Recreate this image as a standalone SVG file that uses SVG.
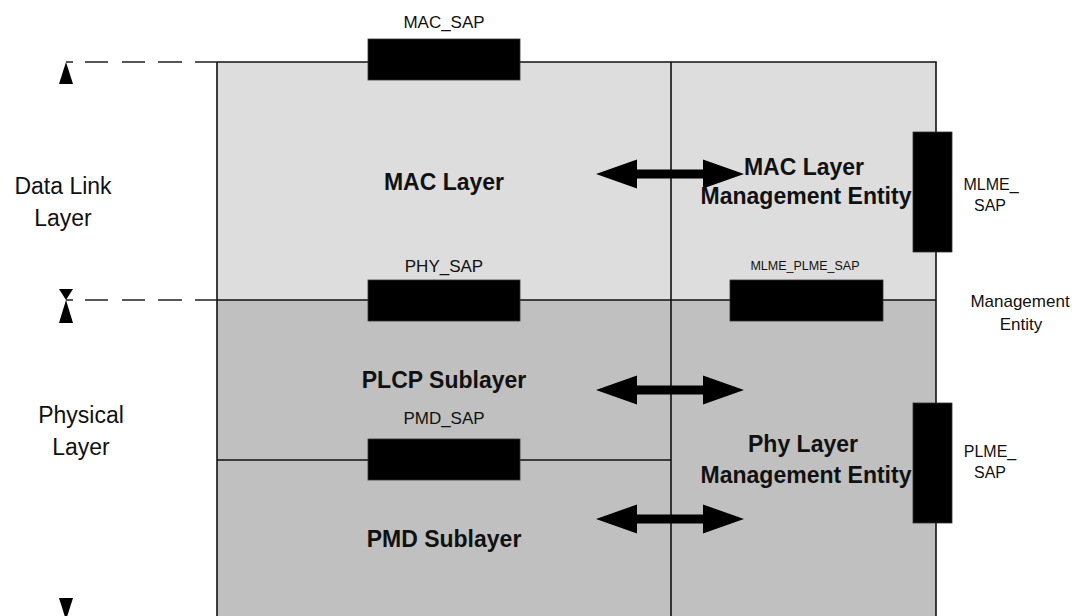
<svg xmlns="http://www.w3.org/2000/svg" width="1080" height="616" viewBox="0 0 1080 616">
<defs>
<style>
.t{font-family:"Liberation Sans",Arial,sans-serif;fill:#111;text-anchor:middle}
.b{font-weight:bold}
.sap{fill:#000;stroke:#333;stroke-width:0.8}
.ln{stroke:#111;stroke-width:1.6;fill:none}
.dash{stroke:#222;stroke-width:1.6;fill:none}
.arr{fill:#000}
</style>
<path id="dbl" d="M-74,0 L-33,-14.5 L-33,-4.5 L33,-4.5 L33,-14.5 L74,0 L33,14.5 L33,4.5 L-33,4.5 L-33,14.5 Z"/>
</defs>
<rect width="1080" height="616" fill="#fff"/>
<g id="data-link-region">
<rect x="217" y="62" width="719" height="238" fill="#dddddd"/>
</g>
<g id="physical-region">
<rect x="217" y="300" width="719" height="320" fill="#c0c0c0"/>
</g>
<g id="grid-lines">
<path class="ln" d="M217,62 H936 V620 M217,62 V620 M671,62 V620 M217,300 H936 M217,460 H671"/>
</g>
<g id="connectors">
<path class="dash" d="M66,62 H73 M85,62 H108 M122,62 H145 M158,62 H182 M195,62 H217"/>
<path class="dash" d="M66,300 H73 M85,300 H108 M122,300 H145 M158,300 H182 M195,300 H217"/>
<path class="arr" d="M66,62 L73,84 L59,84 Z"/>
<path class="arr" d="M66,300 L73,289 L59,289 Z"/>
<path class="arr" d="M66,300 L73,323 L59,323 Z"/>
<path class="arr" d="M66,620 L73,598 L59,598 Z"/>
<use href="#dbl" x="670" y="174"/>
<use href="#dbl" x="670" y="390"/>
<use href="#dbl" x="670" y="519"/>
</g>
<g id="mac-layer">
<text class="t b" x="444" y="190" font-size="23">MAC Layer</text>
</g>
<g id="mac-mgmt">
<text class="t b" x="804" y="175" font-size="23">MAC Layer</text>
<text class="t b" x="806" y="204" font-size="23">Management Entity</text>
</g>
<g id="plcp">
<text class="t b" x="444" y="388" font-size="23">PLCP Sublayer</text>
</g>
<g id="pmd">
<text class="t b" x="444" y="547" font-size="23">PMD Sublayer</text>
</g>
<g id="phy-mgmt">
<text class="t b" x="803" y="452" font-size="23">Phy Layer</text>
<text class="t b" x="806" y="483" font-size="23">Management Entity</text>
</g>
<g id="mac-sap">
<rect class="sap" x="368" y="39" width="152" height="41"/>
<text class="t" x="444" y="28" font-size="17">MAC_SAP</text>
</g>
<g id="phy-sap">
<rect class="sap" x="368" y="280" width="152" height="41"/>
<text class="t" x="444" y="272" font-size="17">PHY_SAP</text>
</g>
<g id="pmd-sap">
<rect class="sap" x="368" y="439" width="152" height="41"/>
<text class="t" x="444" y="424" font-size="17">PMD_SAP</text>
</g>
<g id="mlme-plme-sap">
<rect class="sap" x="730" y="280" width="153" height="41"/>
<text class="t" x="805" y="270" font-size="12.5">MLME_PLME_SAP</text>
</g>
<g id="mlme-sap">
<rect class="sap" x="913" y="132" width="39" height="120"/>
<text class="t" x="991" y="190" font-size="16">MLME_</text>
<text class="t" x="990" y="211" font-size="16">SAP</text>
</g>
<g id="plme-sap">
<rect class="sap" x="913" y="403" width="39" height="120"/>
<text class="t" x="990" y="457" font-size="16">PLME_</text>
<text class="t" x="990" y="478" font-size="16">SAP</text>
</g>
<g id="mgmt-entity-label">
<text class="t" x="1020" y="307" font-size="17">Management</text>
<text class="t" x="1021" y="330" font-size="17">Entity</text>
</g>
<g id="data-link-label">
<text class="t" x="63" y="194" font-size="23">Data Link</text>
<text class="t" x="63" y="226" font-size="23">Layer</text>
</g>
<g id="physical-label">
<text class="t" x="81" y="423" font-size="23">Physical</text>
<text class="t" x="81" y="455" font-size="23">Layer</text>
</g>
</svg>
